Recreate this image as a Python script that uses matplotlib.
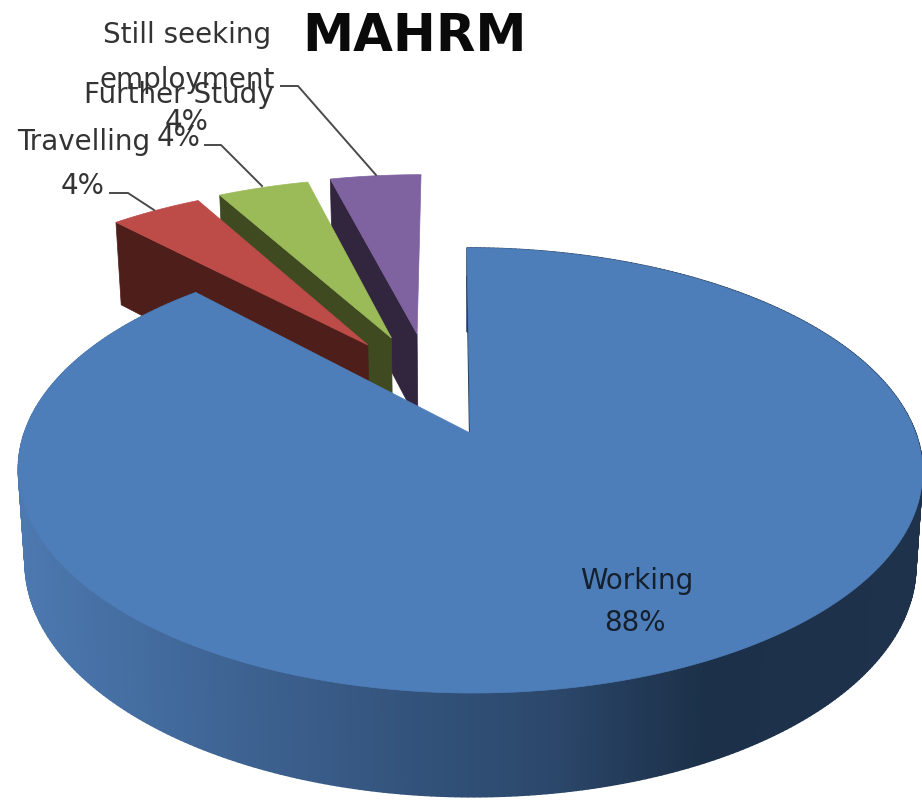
import numpy as np
import matplotlib
matplotlib.use("Agg")
import matplotlib.pyplot as plt
from matplotlib.patches import Polygon
from matplotlib.collections import PolyCollection

# ---- data ----
categories = ["Working", "Travelling", "Further Study", "Still seeking\nemployment"]
percent_values = [88, 4, 4, 4]
percent_labels = ["88%", "4%", "4%", "4%"]
title = "MAHRM"

# ---- style / layout ----
top_colors = ["#4e7eb9", "#bd4c49", "#9bbb59", "#7f62a0"]
wall_colors = ["#1d3149", "#4e1e1b", "#3f4a20", "#32263f"]
explode_offsets = [(0.0, 0.0), (-0.243, 0.437), (-0.187, 0.4745), (-0.125, 0.496)]
slice_u_scale = [1.0, 1.02, 1.02, 1.02]

X0, Y0 = 470.0, 433.0
A, B, K, SKEW = 445.6, 216.2, 0.1685, -3.0
Y0_BOTTOM, SX_BOTTOM, SY_BOTTOM = 525.0, 0.985, 1.045


def project(u, v, bottom=False):
    u, v = np.asarray(u, float), np.asarray(v, float)
    w = 1 + K * v
    sx = SX_BOTTOM if bottom else 1.0
    sy = SY_BOTTOM if bottom else 1.0
    y0 = Y0_BOTTOM if bottom else Y0
    return X0 + sx * A * u / w + SKEW * v, y0 - sy * B * v / w


def wedge_disc(start, end, off, us=1.0):
    t = np.radians(np.linspace(start, end, max(int(abs(end - start) * 2), 12)))
    u = np.concatenate([[off[0]], off[0] + us * np.sin(t)])
    v = np.concatenate([[off[1]], off[1] + np.cos(t)])
    return u, v


def xy(u, v, bottom=False):
    x, y = project(u, v, bottom)
    return np.column_stack([x, y])


fig = plt.figure(figsize=(9.22, 8.01), dpi=100, facecolor="white")
ax = fig.add_axes([0, 0, 1, 1])
ax.set_xlim(0, 922)
ax.set_ylim(801, 0)
ax.axis("off")

fractions = np.array(percent_values) / sum(percent_values)
edges = np.concatenate([[0], np.cumsum(fractions) * 360])

# exploded slices, back to front (last category first)
for i in range(len(categories) - 1, 0, -1):
    u, v = wedge_disc(edges[i], edges[i + 1], explode_offsets[i], slice_u_scale[i])
    # visible radial wall: apex to the arc's left end (the slice's start angle)
    wall_u = [u[0], u[1]]
    wall_v = [v[0], v[1]]
    wall = np.vstack([xy(wall_u, wall_v), xy(wall_u[::-1], wall_v[::-1], True)])
    ax.add_patch(Polygon(wall, closed=True, fc=wall_colors[i], ec=wall_colors[i], lw=0.5, zorder=2 + (4 - i)))
    ax.add_patch(Polygon(xy(u, v), closed=True, fc=top_colors[i], ec=top_colors[i], lw=0.5, zorder=2 + (4 - i)))

# main slice: outer wall with a horizontal shade
grad_x = [0, 30, 200, 400, 550, 705, 922]
grad_r = [78, 76, 64, 52, 44, 28, 30]
grad_g = [124, 120, 103, 84, 72, 48, 50]
grad_b = [180, 175, 152, 125, 108, 73, 76]
t = np.radians(np.linspace(edges[0], edges[1], 480))
uo, vo = np.sin(t), np.cos(t)
top_pts = xy(uo, vo)
bot_pts = xy(uo, vo, True)
quads, cols = [], []
for j in range(len(t) - 1):
    quads.append([top_pts[j], top_pts[j + 1], bot_pts[j + 1], bot_pts[j]])
    xm = 0.5 * (top_pts[j, 0] + bot_pts[j, 0])
    cols.append((np.interp(xm, grad_x, grad_r) / 255,
                 np.interp(xm, grad_x, grad_g) / 255,
                 np.interp(xm, grad_x, grad_b) / 255))
ax.add_collection(PolyCollection(quads, facecolors=cols, edgecolors=cols, linewidths=1.2, zorder=8))

u, v = wedge_disc(edges[0], edges[1], explode_offsets[0])
ax.add_patch(Polygon(xy(u, v), closed=True, fc=top_colors[0], ec=top_colors[0], lw=0.5, zorder=9))
# dark sliver of the cut face at the gap
ax.plot(*project([0, 0], [0, 0.82]), color=wall_colors[0], lw=1.6, zorder=8.5)

# text
font = ["DejaVu Sans"]
txt = dict(ha="center", va="center", family=font, fontsize=20, color="#333333", zorder=12)
ax.text(414, 37, title, ha="center", va="center", family=font, fontsize=37, fontweight="bold",
        color="#0a0a0a", zorder=12)
ax.text(637, 581, categories[0], **{**txt, "color": "#14202e"})
ax.text(635, 623, percent_labels[0], **{**txt, "color": "#14202e"})
ax.text(84, 142, categories[1], **txt)
ax.text(83, 186, percent_labels[1], **txt)
ax.text(179, 95, categories[2], **txt)
ax.text(179, 138, percent_labels[2], **txt)
seek = categories[3].split("\n")
ax.text(187, 35, seek[0], **txt)
ax.text(187, 80, seek[1], **txt)
ax.text(187, 122, percent_labels[3], **txt)

# leader lines
for lx, ly in [([110, 128, 154], [193, 193, 210]),
               ([205, 221, 262], [145, 145, 186]),
               ([281, 298, 376], [86, 86, 175])]:
    ax.plot(lx, ly, color="#4a4a4a", lw=1.4, zorder=11)

fig.savefig("out.png", dpi=100)
